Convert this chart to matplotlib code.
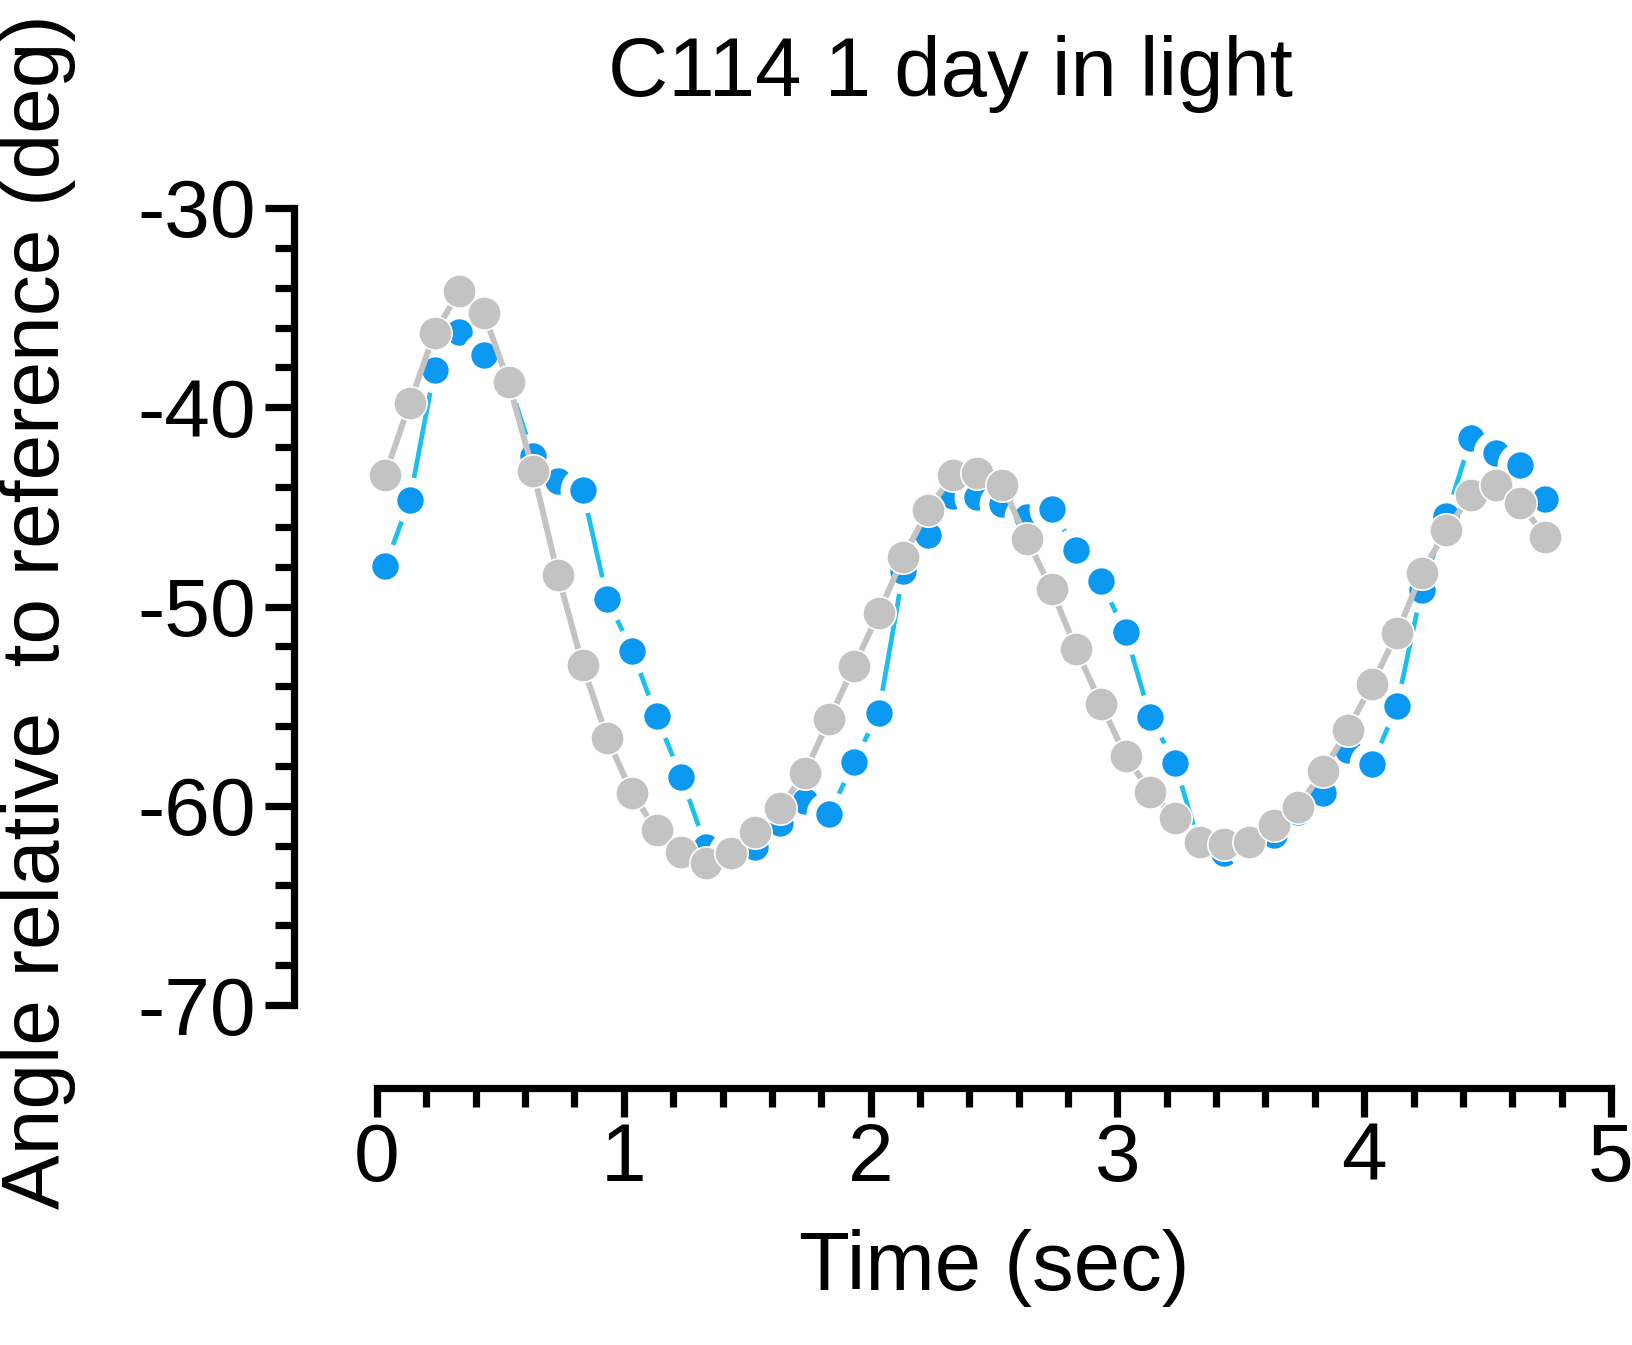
import matplotlib
matplotlib.use('Agg')
import matplotlib.pyplot as plt
from matplotlib.ticker import MultipleLocator

# sample times (sec), one every 0.1 s
time_sec = [0.033, 0.133, 0.233, 0.333, 0.433, 0.533, 0.633, 0.733, 0.833, 0.933,
            1.033, 1.133, 1.233, 1.333, 1.433, 1.533, 1.633, 1.733, 1.833, 1.933,
            2.033, 2.133, 2.233, 2.333, 2.433, 2.533, 2.633, 2.733, 2.833, 2.933,
            3.033, 3.133, 3.233, 3.333, 3.433, 3.533, 3.633, 3.733, 3.833, 3.933,
            4.033, 4.133, 4.233, 4.333, 4.433, 4.533, 4.633, 4.733]

# blue trace (deg)
angle_blue = [-47.96, -44.64, -38.12, -36.24, -37.36, -38.70, -42.47, -43.72, -44.14, -49.63,
              -52.21, -55.52, -58.57, -62.05, -62.35, -62.08, -60.88, -59.74, -60.41, -57.80,
              -55.32, -48.20, -46.40, -44.44, -44.48, -44.84, -45.51, -45.11, -47.15, -48.74,
              -51.30, -55.55, -57.84, -62.00, -62.38, -62.00, -61.46, -60.30, -59.37, -57.19,
              -57.90, -54.98, -49.16, -45.48, -41.55, -42.30, -42.89, -44.61]

# gray trace (deg)
angle_gray = [-43.39, -39.79, -36.28, -34.19, -35.27, -38.75, -43.22, -48.41, -52.93, -56.61,
              -59.37, -61.24, -62.30, -62.88, -62.38, -61.34, -60.12, -58.36, -55.65, -52.99,
              -50.33, -47.50, -45.15, -43.39, -43.30, -43.89, -46.62, -49.13, -52.14, -54.88,
              -57.49, -59.29, -60.62, -61.80, -61.90, -61.80, -60.96, -60.04, -58.28, -56.19,
              -53.88, -51.34, -48.32, -46.15, -44.39, -43.89, -44.81, -46.49]

title = 'C114 1 day in light'
xlabel = 'Time (sec)'
ylabel = 'Angle relative  to reference (deg)'

plt.rcParams['font.family'] = ['Liberation Sans', 'DejaVu Sans']
plt.rcParams['axes.unicode_minus'] = False

W, H = 1633, 1345
fig = plt.figure(figsize=(W / 100, H / 100), dpi=100)
ax = fig.add_axes([377 / W, 1 - 1005 / H, (1611 - 377) / W, (1005 - 208) / H])

# blue: cyan line, blue dots with white halo
ax.plot(time_sec, angle_blue, color='#1cc0ee', lw=3.4, zorder=2, clip_on=False)
ax.plot(time_sec, angle_blue, ls='none', marker='o', ms=26, mfc='#0b98f0',
        mec='white', mew=7, zorder=3, clip_on=False)
# gray on top
ax.plot(time_sec, angle_gray, color='#c3c3c3', lw=4.3, zorder=4, clip_on=False)
ax.plot(time_sec, angle_gray, ls='none', marker='o', ms=24, mfc='#c3c3c3',
        mec='white', mew=1.2, zorder=5, clip_on=False)

ax.set_xlim(0, 5)
ax.set_ylim(-70, -30)

for s in ['top', 'right']:
    ax.spines[s].set_visible(False)
for s in ['left', 'bottom']:
    ax.spines[s].set_linewidth(5.2)
    ax.spines[s].set_position(('outward', 60))
ax.spines['left'].set_bounds(-70, -30)
ax.spines['bottom'].set_bounds(0, 5)

ax.xaxis.set_major_locator(MultipleLocator(1))
ax.xaxis.set_minor_locator(MultipleLocator(0.2))
ax.yaxis.set_major_locator(MultipleLocator(10))
ax.yaxis.set_minor_locator(MultipleLocator(2))
ax.tick_params(which='major', direction='out', length=21, width=5.2, labelsize=59, pad=3)
ax.tick_params(which='minor', direction='out', length=14, width=5.2)
ax.tick_params(axis='y', which='major', pad=6)
ax.set_facecolor('none')

fig.text(950 / W, 1 - 96 / H, title, ha='center', va='baseline', fontsize=60)
fig.text(994 / W, 1 - 1290 / H, xlabel, ha='center', va='baseline', fontsize=60)
fig.text(38 / W, 1 - 612 / H, ylabel, ha='center', va='center', rotation=90, fontsize=59)

fig.savefig('out.png', dpi=100, facecolor='white')
